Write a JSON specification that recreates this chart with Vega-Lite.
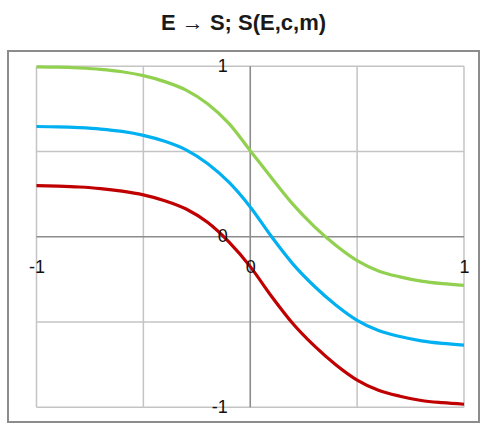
{
  "$schema": "https://vega.github.io/schema/vega-lite/v6.json",
  "width": 471,
  "height": 371,
  "autosize": {"type": "none"},
  "padding": {"left": 8, "top": 51, "right": 6, "bottom": 1},
  "title": {
    "text": "E → S; S(E,c,m)",
    "font": "Liberation Sans",
    "fontSize": 22,
    "fontWeight": "bold",
    "color": "#1a1a1a",
    "anchor": "middle",
    "baseline": "alphabetic",
    "offset": -1
  },
  "config": {
    "view": {"stroke": "#8c8c8c", "strokeWidth": 2},
    "font": "Liberation Sans"
  },
  "datasets": {
    "curves": [
      {"E": -1.0, "S": 0.997, "series": "s1"},
      {"E": -0.9, "S": 0.995, "series": "s1"},
      {"E": -0.8, "S": 0.99, "series": "s1"},
      {"E": -0.7, "S": 0.982, "series": "s1"},
      {"E": -0.6, "S": 0.968, "series": "s1"},
      {"E": -0.5, "S": 0.945, "series": "s1"},
      {"E": -0.4, "S": 0.91, "series": "s1"},
      {"E": -0.3, "S": 0.86, "series": "s1"},
      {"E": -0.2, "S": 0.78, "series": "s1"},
      {"E": -0.1, "S": 0.665, "series": "s1"},
      {"E": 0.0, "S": 0.505, "series": "s1"},
      {"E": 0.1, "S": 0.345, "series": "s1"},
      {"E": 0.2, "S": 0.19, "series": "s1"},
      {"E": 0.3, "S": 0.06, "series": "s1"},
      {"E": 0.4, "S": -0.05, "series": "s1"},
      {"E": 0.5, "S": -0.14, "series": "s1"},
      {"E": 0.6, "S": -0.2, "series": "s1"},
      {"E": 0.7, "S": -0.235, "series": "s1"},
      {"E": 0.8, "S": -0.26, "series": "s1"},
      {"E": 0.9, "S": -0.275, "series": "s1"},
      {"E": 1.0, "S": -0.285, "series": "s1"},
      {"E": -1.0, "S": 0.647, "series": "s2"},
      {"E": -0.9, "S": 0.645, "series": "s2"},
      {"E": -0.8, "S": 0.64, "series": "s2"},
      {"E": -0.7, "S": 0.632, "series": "s2"},
      {"E": -0.6, "S": 0.618, "series": "s2"},
      {"E": -0.5, "S": 0.595, "series": "s2"},
      {"E": -0.4, "S": 0.56, "series": "s2"},
      {"E": -0.3, "S": 0.51, "series": "s2"},
      {"E": -0.2, "S": 0.43, "series": "s2"},
      {"E": -0.1, "S": 0.32, "series": "s2"},
      {"E": 0.0, "S": 0.175, "series": "s2"},
      {"E": 0.1, "S": 0.0, "series": "s2"},
      {"E": 0.2, "S": -0.16, "series": "s2"},
      {"E": 0.3, "S": -0.29, "series": "s2"},
      {"E": 0.4, "S": -0.4, "series": "s2"},
      {"E": 0.5, "S": -0.49, "series": "s2"},
      {"E": 0.6, "S": -0.55, "series": "s2"},
      {"E": 0.7, "S": -0.585, "series": "s2"},
      {"E": 0.8, "S": -0.61, "series": "s2"},
      {"E": 0.9, "S": -0.625, "series": "s2"},
      {"E": 1.0, "S": -0.635, "series": "s2"},
      {"E": -1.0, "S": 0.3, "series": "s3"},
      {"E": -0.9, "S": 0.297, "series": "s3"},
      {"E": -0.8, "S": 0.292, "series": "s3"},
      {"E": -0.7, "S": 0.283, "series": "s3"},
      {"E": -0.6, "S": 0.268, "series": "s3"},
      {"E": -0.5, "S": 0.246, "series": "s3"},
      {"E": -0.4, "S": 0.212, "series": "s3"},
      {"E": -0.3, "S": 0.163, "series": "s3"},
      {"E": -0.2, "S": 0.085, "series": "s3"},
      {"E": -0.1, "S": -0.03, "series": "s3"},
      {"E": 0.0, "S": -0.175, "series": "s3"},
      {"E": 0.1, "S": -0.35, "series": "s3"},
      {"E": 0.2, "S": -0.51, "series": "s3"},
      {"E": 0.3, "S": -0.64, "series": "s3"},
      {"E": 0.4, "S": -0.75, "series": "s3"},
      {"E": 0.5, "S": -0.84, "series": "s3"},
      {"E": 0.6, "S": -0.9, "series": "s3"},
      {"E": 0.7, "S": -0.935, "series": "s3"},
      {"E": 0.8, "S": -0.96, "series": "s3"},
      {"E": 0.9, "S": -0.973, "series": "s3"},
      {"E": 1.0, "S": -0.982, "series": "s3"}
    ],
    "gridV": [
      {"g": -1, "from": -1, "to": 1},
      {"g": -0.5, "from": -1, "to": 1},
      {"g": 0.5, "from": -1, "to": 1},
      {"g": 1, "from": -1, "to": 1}
    ],
    "gridH": [
      {"g": -1, "from": -1, "to": 1},
      {"g": -0.5, "from": -1, "to": 1},
      {"g": 0.5, "from": -1, "to": 1},
      {"g": 1, "from": -1, "to": 1}
    ],
    "axesLines": [
      {"g": 0, "from": -1, "to": 1}
    ]
  },
  "layer": [
    {
      "data": {"name": "gridV"},
      "mark": {"type": "rule", "stroke": "#c4c4c4", "strokeWidth": 1.5},
      "encoding": {
        "x": {"field": "g", "type": "quantitative"},
        "y": {"field": "from", "type": "quantitative"},
        "y2": {"field": "to"}
      }
    },
    {
      "data": {"name": "gridH"},
      "mark": {"type": "rule", "stroke": "#c4c4c4", "strokeWidth": 1.5},
      "encoding": {
        "y": {"field": "g", "type": "quantitative"},
        "x": {"field": "from", "type": "quantitative"},
        "x2": {"field": "to"}
      }
    },
    {
      "data": {"name": "axesLines"},
      "mark": {"type": "rule", "stroke": "#8c8c8c", "strokeWidth": 1.6},
      "encoding": {
        "x": {"field": "g", "type": "quantitative"},
        "y": {"field": "from", "type": "quantitative"},
        "y2": {"field": "to"}
      }
    },
    {
      "data": {"name": "axesLines"},
      "mark": {"type": "rule", "stroke": "#8c8c8c", "strokeWidth": 1.6},
      "encoding": {
        "y": {"field": "g", "type": "quantitative"},
        "x": {"field": "from", "type": "quantitative"},
        "x2": {"field": "to"}
      }
    },
    {
      "data": {"name": "curves"},
      "mark": {"type": "line", "interpolate": "monotone", "strokeWidth": 3.2},
      "encoding": {
        "x": {
          "field": "E",
          "type": "quantitative",
          "scale": {"domain": [-1.1333, 1.0702], "nice": false, "zero": false},
          "axis": {
            "values": [-1, 0, 1],
            "offset": -185.2,
            "domain": false,
            "ticks": false,
            "grid": false,
            "title": null,
            "labelPadding": 22,
            "labelFontSize": 18,
            "labelColor": "#111111",
            "labelFlush": false,
            "labelExpr": "'' + datum.value",
            "zindex": 2
          }
        },
        "y": {
          "field": "S",
          "type": "quantitative",
          "scale": {"domain": [-1.0862, 1.0897], "nice": false, "zero": false},
          "axis": {
            "values": [-1, 0, 1],
            "offset": -242.25,
            "domain": false,
            "ticks": false,
            "grid": false,
            "title": null,
            "labelPadding": 23,
            "labelFontSize": 18,
            "labelColor": "#111111",
            "labelFlush": false,
            "labelExpr": "'' + datum.value",
            "zindex": 2
          }
        },
        "color": {
          "field": "series",
          "type": "nominal",
          "scale": {"domain": ["s1", "s2", "s3"], "range": ["#92D050", "#00B0F0", "#C00000"]},
          "legend": null
        }
      }
    }
  ]
}
